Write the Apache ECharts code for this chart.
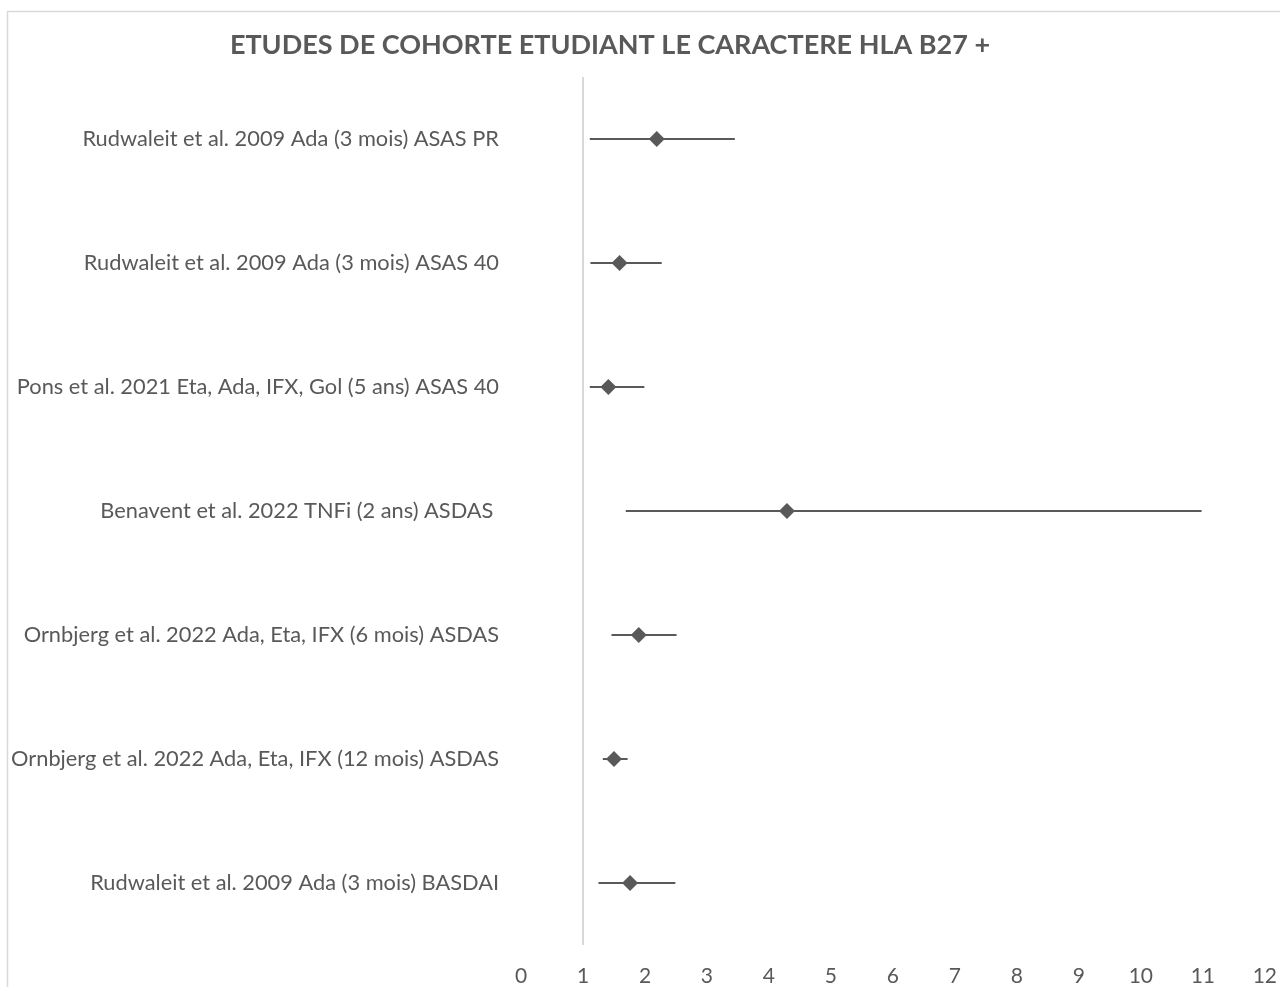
<!DOCTYPE html>
<html>
<head>
<meta charset="utf-8">
<script src="https://cdn.jsdelivr.net/npm/echarts@6/dist/echarts.min.js"></script>
<style>
  html, body { margin: 0; padding: 0; background: #ffffff; }
  #chart { width: 1280px; height: 987px; }
</style>
</head>
<body>
<div id="chart"></div>
<script>
// Studies (top to bottom), odds ratios and 95% confidence bounds
const studies = [
  'Rudwaleit et al. 2009 Ada (3 mois) ASAS PR',
  'Rudwaleit et al. 2009 Ada (3 mois) ASAS 40',
  'Pons et al. 2021 Eta, Ada, IFX, Gol (5 ans) ASAS 40',
  'Benavent et al. 2022 TNFi (2 ans) ASDAS ',
  'Ornbjerg et al. 2022 Ada, Eta, IFX (6 mois) ASDAS',
  'Ornbjerg et al. 2022 Ada, Eta, IFX (12 mois) ASDAS',
  'Rudwaleit et al. 2009 Ada (3 mois) BASDAI'
];
const oddsRatio = [2.19, 1.59, 1.41, 4.29, 1.90, 1.50, 1.76];
const lowerCI   = [1.11, 1.12, 1.11, 1.69, 1.46, 1.32, 1.25];
const upperCI   = [3.45, 2.27, 1.99, 10.98, 2.51, 1.72, 2.49];
const xTicks    = [0, 1, 2, 3, 4, 5, 6, 7, 8, 9, 10, 11, 12];
const nullEffect = 1;

const FONT = 'Lato, "Open Sans", sans-serif';
const INK = '#595959';

const chart = echarts.init(document.getElementById('chart'), null, { renderer: 'canvas' });

const ciData = studies.map((s, i) => [lowerCI[i], upperCI[i], i]);
const orData = studies.map((s, i) => [oddsRatio[i], i]);

chart.setOption({
  animation: false,
  backgroundColor: '#ffffff',
  graphic: [
    {
      type: 'rect',
      shape: { x: 7.5, y: 11.5, width: 1400, height: 1100 },
      style: { fill: 'none', stroke: '#d9d9d9', lineWidth: 1.5 },
      silent: true
    },
    {
      type: 'text',
      x: 610, y: 45,
      style: {
        text: 'ETUDES DE COHORTE ETUDIANT LE CARACTERE HLA B27 +',
        fill: INK,
        font: 'bold 27px ' + FONT,
        textAlign: 'center',
        textVerticalAlign: 'middle'
      }
    }
  ],
  grid: { left: 521, right: 15, top: 77, bottom: 42, containLabel: false },
  xAxis: {
    type: 'value',
    min: 0, max: 12, interval: 1,
    axisLine: { show: false },
    axisTick: { show: false },
    splitLine: { show: false },
    axisLabel: {
      color: INK, fontSize: 21, fontFamily: FONT, margin: 21,
      formatter: v => xTicks.includes(v) ? String(v) : ''
    }
  },
  yAxis: {
    type: 'category',
    data: studies,
    inverse: true,
    axisLine: { show: false },
    axisTick: { show: false },
    splitLine: { show: false },
    axisLabel: { color: INK, fontSize: 21.8, fontFamily: FONT, margin: 22 }
  },
  series: [
    {
      // vertical reference line at OR = 1, spanning the plot height
      type: 'custom',
      name: 'ref',
      data: [[nullEffect, 0]],
      encode: { x: 0, y: 1 },
      silent: true,
      renderItem: (params, api) => {
        const cs = params.coordSys;
        const x = api.coord([api.value(0), 0])[0];
        return {
          type: 'line',
          shape: { x1: x, y1: cs.y, x2: x, y2: cs.y + cs.height },
          style: { stroke: '#d9d9d9', lineWidth: 2 }
        };
      },
      z: 1
    },
    {
      type: 'custom',
      name: 'IC 95%',
      data: ciData,
      encode: { x: [0, 1], y: 2 },
      renderItem: (params, api) => {
        const a = api.coord([api.value(0), api.value(2)]);
        const b = api.coord([api.value(1), api.value(2)]);
        return {
          type: 'line',
          shape: { x1: a[0], y1: a[1], x2: b[0], y2: b[1] },
          style: { stroke: INK, lineWidth: 2 }
        };
      },
      z: 2
    },
    {
      type: 'scatter',
      name: 'OR',
      data: orData,
      symbol: 'diamond',
      symbolSize: [16, 16],
      itemStyle: { color: INK, opacity: 1 },
      z: 3
    }
  ]
});
</script>
</body>
</html>
